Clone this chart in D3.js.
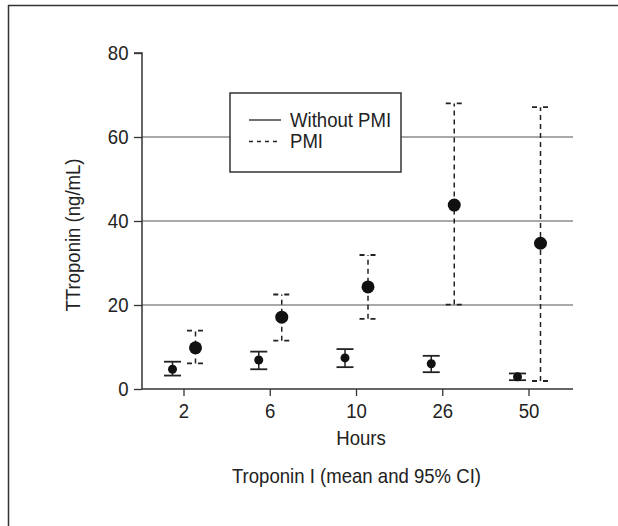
<!DOCTYPE html>
<html><head><meta charset="utf-8">
<script src="https://cdn.jsdelivr.net/npm/d3@7"></script>
<style>body{margin:0;background:#fff}svg{display:block}text{font-family:"Liberation Sans",Arial,sans-serif;fill:#222}</style>
</head><body><svg id="c" width="618" height="526"></svg>
<script>
const hours = ["2","6","10","26","50"];
const woMean = [4.7, 6.9, 7.4, 6.0, 2.9];
const woLow  = [3.2, 4.7, 5.2, 4.0, 2.1];
const woHigh = [6.5, 8.9, 9.5, 7.9, 3.7];
const pmiMean = [9.8, 17.1, 24.3, 43.8, 34.7];
const pmiLow  = [6.1, 11.5, 16.7, 20.1, 1.9];
const pmiHigh = [13.9, 22.5, 31.9, 68.0, 67.1];
const yTicks = [0, 20, 40, 60, 80];
const gridVals = [20, 40, 60];
const seriesNames = ["Without PMI", "PMI"];

const svg = d3.select("#c");
const fs = 21, sx = 0.885;
function condense(sel){
  sel.each(function(){
    const t = d3.select(this);
    const xv = +(t.attr("x")||0);
    t.attr("x", xv/sx);
    const tr = t.attr("transform")||"";
    t.attr("transform", (tr?tr+" ":"")+`scale(${sx},1)`);
  });
}
// frame
svg.append("line").attr("x1",8).attr("x2",618).attr("y1",5.5).attr("y2",5.5).attr("stroke","#333").attr("stroke-width",1.5);
svg.append("line").attr("x1",8.5).attr("x2",8.5).attr("y1",5).attr("y2",526).attr("stroke","#333").attr("stroke-width",1.5);

const x0 = 142, x1 = 573, yTop = 53, yBot = 389;
const y = d3.scaleLinear().domain([0,80]).range([yBot,yTop]);
const x = d3.scalePoint().domain(hours).range([183.5,528.5]);

// grid
svg.append("g").selectAll("line").data(gridVals).join("line")
  .attr("x1",x0).attr("x2",x1).attr("y1",d=>y(d)).attr("y2",d=>y(d))
  .attr("stroke","#555").attr("stroke-width",1.2);

// y axis
const ya = svg.append("g").attr("transform",`translate(${x0},0)`)
  .call(d3.axisLeft(y).tickValues(yTicks).tickSize(8).tickPadding(5.5));
ya.select(".domain").attr("stroke","#333").attr("stroke-width",1.5).attr("d",`M-8,${yTop}H0V${yBot}`);
ya.selectAll(".tick line").attr("stroke","#333").attr("stroke-width",1.3);
ya.selectAll(".tick text").attr("font-size",fs).attr("fill","#222").attr("font-family",null).call(condense);

// x axis
const xa = svg.append("g").attr("transform",`translate(0,${yBot})`)
  .call(d3.axisBottom(x).tickSize(7).tickPadding(7));
xa.select(".domain").attr("stroke","#333").attr("stroke-width",1.5).attr("d",`M${x0},0H${x1}`);
xa.selectAll(".tick line").attr("stroke","#333").attr("stroke-width",1.3);
xa.selectAll(".tick text").attr("font-size",fs).attr("fill","#222").attr("font-family",null).call(condense);

// labels
svg.append("text").attr("x",361).attr("y",445).attr("text-anchor","middle").attr("font-size",fs).text("Hours").call(condense);
svg.append("text").attr("x",356.5).attr("y",483).attr("text-anchor","middle").attr("font-size",fs).text("Troponin I (mean and 95% CI)").call(condense);
svg.append("text").attr("transform","translate(80,235) rotate(-90)").attr("text-anchor","middle").attr("font-size",fs).text("TTroponin (ng/mL)").call(condense);

// error bars
function drawSeries(mean, low, high, off, r, dash) {
  const g = svg.append("g");
  const capW = 8.5;
  hours.forEach((h,i)=>{
    const cx = x(h)+off;
    g.append("line").attr("x1",cx).attr("x2",cx).attr("y1",y(low[i])).attr("y2",y(high[i]))
      .attr("stroke","#222").attr("stroke-width",1.5).attr("stroke-dasharray",dash);
    [low[i],high[i]].forEach(v=>{
      g.append("line").attr("x1",cx-capW).attr("x2",cx+capW).attr("y1",y(v)).attr("y2",y(v))
        .attr("stroke","#222").attr("stroke-width",1.8).attr("stroke-dasharray",dash?"5,6":null);
    });
    g.append("circle").attr("cx",cx).attr("cy",y(mean[i])).attr("r",r).attr("fill","#111");
  });
}
drawSeries(woMean, woLow, woHigh, -11, 4.5, null);
drawSeries(pmiMean, pmiLow, pmiHigh, 12, 6.5, "5,4");

// legend
const lg = svg.append("g");
lg.append("rect").attr("x",230).attr("y",93).attr("width",171).attr("height",79).attr("fill","#fff").attr("stroke","#333").attr("stroke-width",1.5);
seriesNames.forEach((n,i)=>{
  const ly = 120 + i*21.5;
  lg.append("line").attr("x1",249).attr("x2",281).attr("y1",ly).attr("y2",ly).attr("stroke","#222").attr("stroke-width",1.3).attr("stroke-dasharray",i?"4,4":null);
  lg.append("text").attr("x",290).attr("y",ly+7).attr("font-size",fs).text(n).call(condense);
});
</script></body></html>
